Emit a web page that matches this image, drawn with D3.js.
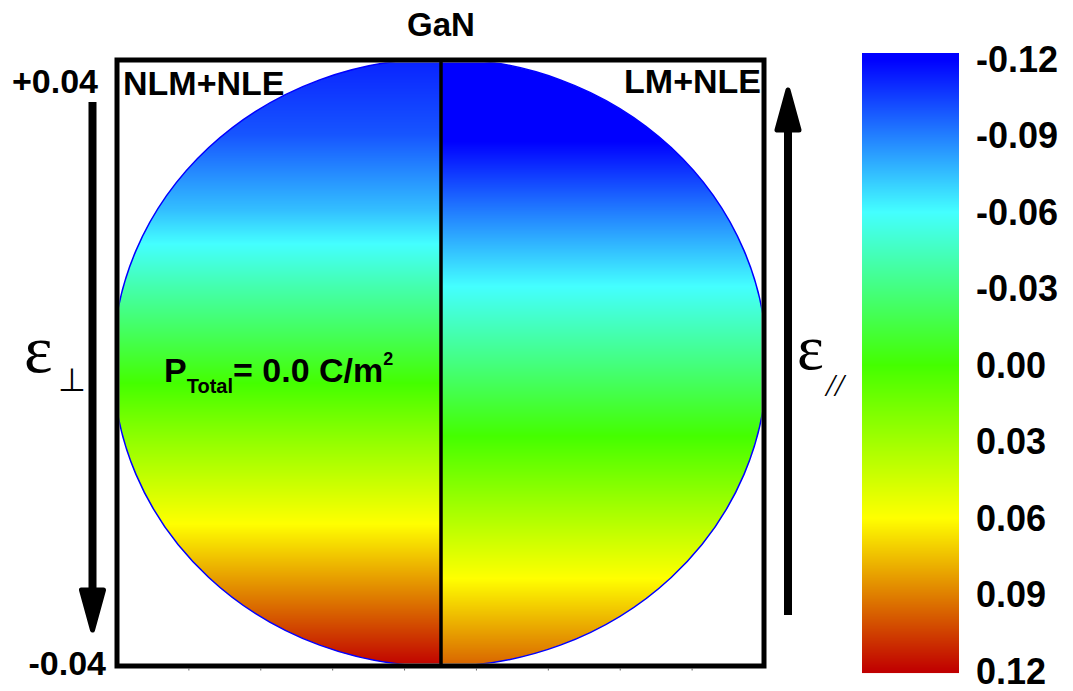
<!DOCTYPE html>
<html>
<head>
<meta charset="utf-8">
<script src="https://cdn.jsdelivr.net/npm/d3@7"></script>
<style>
  html, body { margin: 0; padding: 0; background: #fff; }
  svg { display: block; }
  text { font-family: "Liberation Sans", Arial, sans-serif; font-weight: bold; fill: #000; }
  .serif { font-family: "Liberation Serif", "Times New Roman", serif; font-weight: normal; }
</style>
</head>
<body>
<svg id="chart" width="1073" height="691"></svg>
<script>
// ---- data ----
const strain = [0.04, 0.03, 0.02, 0.01, 0.00, -0.01, -0.02, -0.03, -0.04];
const leftValues  = [-0.112, -0.100, -0.075, -0.041, -0.009, 0.024, 0.056, 0.088, 0.120]; // NLM+NLE
const rightValues = [-0.155, -0.123, -0.091, -0.060, -0.030, 0.001, 0.033, 0.065, 0.097]; // LM+NLE
const colorStops = [-0.12, -0.06, 0.00, 0.06, 0.12];
const colorRange = ["#0000ff", "#44ffff", "#44ff00", "#ffff00", "#c00000"];
const cbTicks = [-0.12, -0.09, -0.06, -0.03, 0.00, 0.03, 0.06, 0.09, 0.12];
const cbTickLabels = ["-0.12", "-0.09", "-0.06", "-0.03", "0.00", "0.03", "0.06", "0.09", "0.12"];
const strainLabels = ["+0.04", "-0.04"];
const title = "GaN";
const leftLabel = "NLM+NLE";
const rightLabel = "LM+NLE";

// ---- layout ----
const svg = d3.select("#chart");
const frame = { x0: 117, y0: 60, x1: 764, y1: 666 };
const cx = 440, cy = 362.5, rx = 327, ry = 304;
const divX = 441;

const color = d3.scaleLinear().domain(colorStops).range(colorRange).clamp(true);
const yScale = d3.scaleLinear().domain([0.04, -0.04]).range([cy - ry, cy + ry]);
const leftVal = d3.scaleLinear().domain(strain).range(leftValues);
const rightVal = d3.scaleLinear().domain(strain).range(rightValues);

const defs = svg.append("defs");
defs.append("clipPath").attr("id", "frameClip")
  .append("rect").attr("x", frame.x0 + 2.5).attr("y", frame.y0 + 2.5)
  .attr("width", frame.x1 - frame.x0 - 5).attr("height", frame.y1 - frame.y0 - 5);
defs.append("clipPath").attr("id", "ellClip")
  .append("ellipse").attr("cx", cx).attr("cy", cy).attr("rx", rx).attr("ry", ry);

const inner = svg.append("g").attr("clip-path", "url(#frameClip)");
const filled = inner.append("g").attr("clip-path", "url(#ellClip)");

const rows = d3.range(Math.floor(cy - ry), Math.ceil(cy + ry) + 1, 1);
filled.selectAll("rect.l").data(rows).join("rect").attr("class", "l")
  .attr("x", frame.x0).attr("y", d => d).attr("width", divX - frame.x0).attr("height", 1.05)
  .attr("fill", d => color(leftVal(yScale.invert(d + 0.5))));
filled.selectAll("rect.r").data(rows).join("rect").attr("class", "r")
  .attr("x", divX).attr("y", d => d).attr("width", frame.x1 - divX).attr("height", 1.05)
  .attr("fill", d => color(rightVal(yScale.invert(d + 0.5))));

inner.append("ellipse").attr("cx", cx).attr("cy", cy).attr("rx", rx).attr("ry", ry)
  .attr("fill", "none").attr("stroke", "#0000ff").attr("stroke-width", 1.5);

// divider
svg.append("line").attr("x1", divX).attr("x2", divX).attr("y1", frame.y0).attr("y2", frame.y1)
  .attr("stroke", "#000").attr("stroke-width", 3.5);

// frame
svg.append("rect").attr("x", frame.x0).attr("y", frame.y0)
  .attr("width", frame.x1 - frame.x0).attr("height", frame.y1 - frame.y0)
  .attr("fill", "none").attr("stroke", "#000").attr("stroke-width", 5);
// small bottom ticks
const tickXs = d3.range(1, 9).map(k => frame.x0 + k * (frame.x1 - frame.x0) / 9);
svg.selectAll("line.bt").data(tickXs).join("line").attr("class", "bt")
  .attr("x1", d => d).attr("x2", d => d).attr("y1", frame.y1 + 2).attr("y2", frame.y1 + 4.5)
  .attr("stroke", "#666").attr("stroke-width", 1);

// labels
svg.append("text").attr("x", 441).attr("y", 36).attr("text-anchor", "middle")
  .attr("font-size", 33).text(title);
svg.append("text").attr("x", 123).attr("y", 95).attr("font-size", 34).text(leftLabel);
svg.append("text").attr("x", 761).attr("y", 93).attr("text-anchor", "end").attr("font-size", 34).text(rightLabel);
svg.append("text").attr("x", 98).attr("y", 93).attr("text-anchor", "end").attr("font-size", 34).text(strainLabels[0]);
svg.append("text").attr("x", 106).attr("y", 675).attr("text-anchor", "end").attr("font-size", 34).text(strainLabels[1]);

// P_Total label
const pt = svg.append("text").attr("x", 164).attr("y", 382).attr("font-size", 34);
pt.append("tspan").text("P");
pt.append("tspan").attr("font-size", 20).attr("dy", 11).text("Total");
pt.append("tspan").attr("dy", -11).text("= 0.0 C/m");
pt.append("tspan").attr("font-size", 18).attr("dy", -17).text("2");

// epsilon labels
svg.append("text").attr("class", "serif").attr("x", 24).attr("y", 372).attr("font-size", 68).text("ε");
svg.append("text").attr("class", "serif").attr("x", 58).attr("y", 391).attr("font-size", 32).text("⊥");
svg.append("text").attr("class", "serif").attr("x", 797).attr("y", 369).attr("font-size", 64).text("ε");
svg.append("text").attr("class", "serif").attr("x", 826).attr("y", 396).attr("font-size", 32)
  .attr("font-style", "italic").text("//");

// arrows
function arrow(x, yStart, yBase, yTip) {
  svg.append("line").attr("x1", x).attr("x2", x).attr("y1", yStart).attr("y2", yBase)
    .attr("stroke", "#000").attr("stroke-width", 8);
  svg.append("path")
    .attr("d", d3.line()([[x - 11, yBase], [x + 11, yBase], [x, yTip]]) + "Z")
    .attr("fill", "#000").attr("stroke", "#000").attr("stroke-width", 5).attr("stroke-linejoin", "round");
}
arrow(92.5, 102, 590, 630);
arrow(788, 615, 130, 90);

// colorbar
const cb = { x0: 862, x1: 959, y0: 53, y1: 673 };
const cbScale = d3.scaleLinear().domain([-0.12, 0.12]).range([59.5, 671]);
const cbRows = d3.range(cb.y0, cb.y1, 1);
svg.append("g").selectAll("rect").data(cbRows).join("rect")
  .attr("x", cb.x0).attr("y", d => d).attr("width", cb.x1 - cb.x0).attr("height", 1.05)
  .attr("fill", d => color(cbScale.invert(d + 0.5)));
svg.append("g").selectAll("text").data(cbTicks).join("text")
  .attr("x", 976).attr("y", d => cbScale(d) + 12.5).attr("font-size", 36)
  .text((d, i) => cbTickLabels[i]);
</script>
</body>
</html>
